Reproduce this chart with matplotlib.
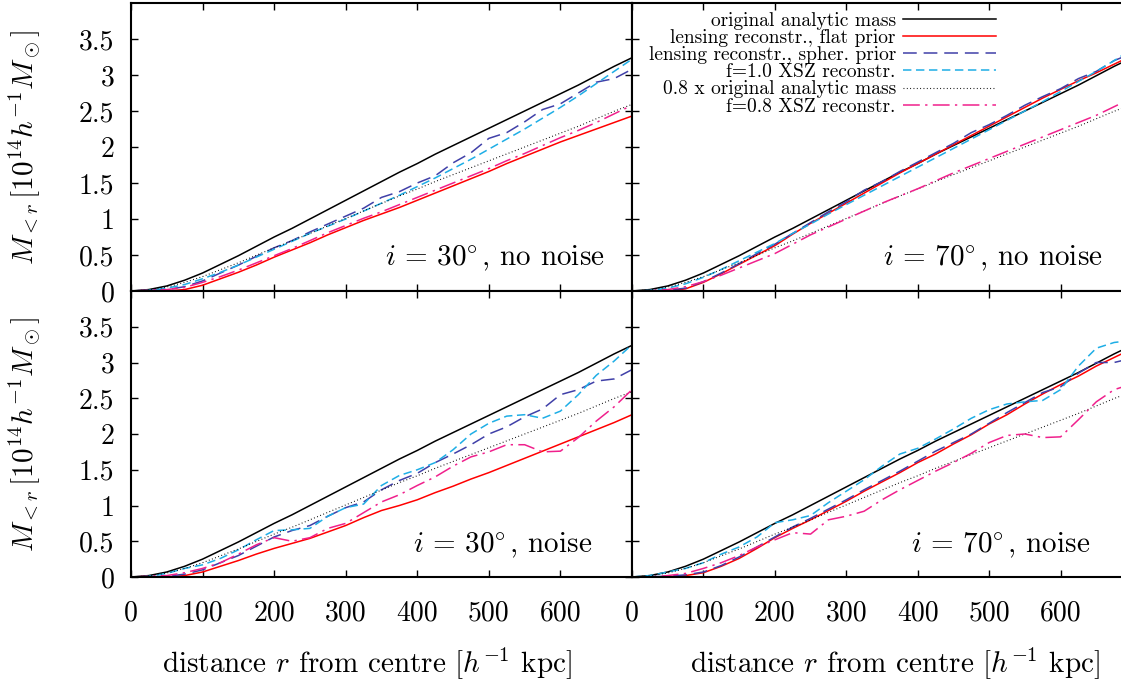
import numpy as np
import matplotlib.pyplot as plt

plt.rcParams['font.family'] = 'cmr10'
plt.rcParams['mathtext.fontset'] = 'cm'
plt.rcParams['axes.formatter.use_mathtext'] = True

# radius grid [h^-1 kpc]
r_kpc = [0, 25, 50, 75, 100, 125, 150, 175, 200, 225, 250, 275, 300, 325, 350,
         375, 400, 425, 450, 475, 500, 525, 550, 575, 600, 625, 650, 675, 700]

# original analytic mass [1e14 h^-1 Msun]
mass_true = [0, 0.02, 0.07, 0.15, 0.25, 0.37, 0.49, 0.62, 0.75, 0.87, 1.0, 1.13, 1.26, 1.39, 1.52,
             1.65, 1.77, 1.90, 2.02, 2.14, 2.26, 2.38, 2.50, 2.62, 2.74, 2.86, 2.99, 3.12, 3.24]

# i = 30 deg, no noise
flat_30 = [0, 0, 0, 0.02, 0.08, 0.17, 0.26, 0.36, 0.47, 0.57, 0.67, 0.78, 0.88, 0.98, 1.07,
           1.16, 1.26, 1.36, 1.46, 1.56, 1.66, 1.77, 1.87, 1.97, 2.07, 2.16, 2.25, 2.34, 2.43]
spher_30 = [0, 0.01, 0.02, 0.06, 0.14, 0.25, 0.36, 0.48, 0.6, 0.7, 0.82, 0.93, 1.04, 1.15, 1.3,
            1.38, 1.5, 1.6, 1.78, 1.92, 2.12, 2.2, 2.35, 2.52, 2.6, 2.75, 2.9, 2.95, 3.08]
xsz10_30 = [0, 0.01, 0.04, 0.09, 0.17, 0.26, 0.36, 0.47, 0.58, 0.69, 0.8, 0.9, 1.0, 1.11, 1.22,
            1.33, 1.45, 1.57, 1.7, 1.83, 1.97, 2.11, 2.25, 2.4, 2.55, 2.71, 2.88, 3.05, 3.22]
xsz08_30 = [0, 0.01, 0.02, 0.05, 0.12, 0.2, 0.29, 0.39, 0.49, 0.59, 0.7, 0.81, 0.91, 1.01, 1.1,
            1.2, 1.3, 1.4, 1.5, 1.6, 1.7, 1.81, 1.91, 2.02, 2.13, 2.23, 2.34, 2.46, 2.58]

# i = 70 deg, no noise
flat_70 = [0, 0, 0, 0.03, 0.12, 0.24, 0.37, 0.5, 0.63, 0.79, 0.94, 1.08, 1.22, 1.36, 1.5,
           1.64, 1.77, 1.9, 2.03, 2.16, 2.29, 2.42, 2.55, 2.68, 2.8, 2.92, 3.03, 3.15, 3.27]
spher_70 = [0, 0.005, 0.01, 0.04, 0.13, 0.25, 0.38, 0.52, 0.65, 0.8, 0.95, 1.1, 1.24, 1.4, 1.52,
            1.66, 1.79, 1.92, 2.05, 2.2, 2.31, 2.44, 2.58, 2.7, 2.81, 2.95, 3.05, 3.2, 3.3]
xsz10_70 = [0, 0.01, 0.04, 0.1, 0.19, 0.3, 0.42, 0.54, 0.66, 0.8, 0.93, 1.07, 1.2, 1.33, 1.46,
            1.59, 1.72, 1.85, 1.98, 2.11, 2.24, 2.37, 2.5, 2.63, 2.77, 2.91, 3.05, 3.2, 3.36]
xsz08_70 = [0, 0.005, 0.02, 0.06, 0.13, 0.22, 0.32, 0.42, 0.52, 0.65, 0.78, 0.89, 1.0, 1.11, 1.22,
            1.32, 1.42, 1.53, 1.64, 1.74, 1.84, 1.94, 2.04, 2.14, 2.24, 2.34, 2.44, 2.56, 2.68]

# i = 30 deg, noise
flat_30n = [0, 0, 0, 0.02, 0.07, 0.15, 0.23, 0.32, 0.40, 0.47, 0.54, 0.63, 0.72, 0.83, 0.93,
            1.0, 1.08, 1.18, 1.27, 1.37, 1.46, 1.56, 1.66, 1.76, 1.86, 1.96, 2.06, 2.16, 2.27]
spher_30n = [0, 0.005, 0.01, 0.04, 0.1, 0.2, 0.3, 0.43, 0.56, 0.65, 0.72, 0.85, 0.97, 1.05, 1.22,
             1.35, 1.45, 1.6, 1.72, 1.85, 2.0, 2.1, 2.24, 2.35, 2.55, 2.62, 2.74, 2.77, 2.9]
xsz10_30n = [0, 0.01, 0.05, 0.12, 0.17, 0.26, 0.38, 0.52, 0.65, 0.66, 0.68, 0.85, 0.97, 1.02, 1.28,
             1.42, 1.5, 1.6, 1.78, 2.0, 2.15, 2.25, 2.27, 2.22, 2.32, 2.55, 2.82, 3.02, 3.25]
xsz08_30n = [0, 0.01, 0.02, 0.06, 0.12, 0.2, 0.32, 0.45, 0.55, 0.5, 0.55, 0.68, 0.75, 0.9, 1.05,
             1.15, 1.28, 1.4, 1.55, 1.68, 1.75, 1.85, 1.85, 1.75, 1.76, 1.95, 2.18, 2.38, 2.62]

# i = 70 deg, noise
flat_70n = [0, 0, 0, 0.02, 0.06, 0.15, 0.26, 0.4, 0.55, 0.68, 0.8, 0.93, 1.06, 1.2, 1.33,
            1.46, 1.6, 1.72, 1.86, 1.99, 2.14, 2.27, 2.42, 2.56, 2.69, 2.81, 2.95, 3.07, 3.19]
spher_70n = [0, 0.005, 0.01, 0.03, 0.07, 0.16, 0.28, 0.42, 0.56, 0.7, 0.82, 0.95, 1.08, 1.22, 1.35,
             1.48, 1.62, 1.76, 1.88, 2.0, 2.15, 2.3, 2.44, 2.58, 2.66, 2.85, 3.0, 3.0, 3.06]
xsz10_70n = [0, 0.02, 0.07, 0.12, 0.2, 0.32, 0.42, 0.56, 0.76, 0.8, 0.86, 1.04, 1.2, 1.36, 1.55,
             1.72, 1.8, 1.93, 2.07, 2.22, 2.34, 2.42, 2.45, 2.47, 2.62, 2.95, 3.2, 3.28, 3.31]
xsz08_70n = [0, 0, 0.02, 0.05, 0.12, 0.2, 0.3, 0.42, 0.52, 0.62, 0.6, 0.8, 0.85, 0.92, 1.08,
             1.22, 1.35, 1.48, 1.6, 1.73, 1.88, 1.98, 2.0, 1.95, 1.96, 2.2, 2.45, 2.62, 2.7]

labels = ['original analytic mass', 'lensing reconstr., flat prior',
          'lensing reconstr., spher. prior', 'f=1.0 XSZ reconstr.',
          '0.8 x original analytic mass', 'f=0.8 XSZ reconstr.']
panel_titles = [r'$i\,=\,30\!^\circ$, no noise', r'$i\,=\,70\!^\circ$, no noise',
                r'$i\,=\,30\!^\circ$, noise', r'$i\,=\,70\!^\circ$, noise']
xticks = [0, 100, 200, 300, 400, 500, 600, 700]
xticklabels = ['0', '100', '200', '300', '400', '500', '600', '']
yticks = [0, 0.5, 1, 1.5, 2, 2.5, 3, 3.5]
yticklabels = ['0', '0.5', '1', '1.5', '2', '2.5', '3', '3.5']

r = np.array(r_kpc)
mass = np.array(mass_true)

W, H = 1121, 684
fig = plt.figure(figsize=(W / 100, H / 100), dpi=100)

def fx(px):
    return px / W

def fy(py):
    return 1 - py / H

# panel boxes in pixels: left, top, right, bottom
boxes = [(131, 3, 632, 291), (632, 3, 1132, 291),
         (131, 291, 632, 577), (632, 291, 1132, 577)]
series = [(flat_30, spher_30, xsz10_30, xsz08_30),
          (flat_70, spher_70, xsz10_70, xsz08_70),
          (flat_30n, spher_30n, xsz10_30n, xsz08_30n),
          (flat_70n, spher_70n, xsz10_70n, xsz08_70n)]
title_pos = [(0.946, 0.115), (0.942, 0.115), (0.92, 0.112), (0.916, 0.112)]

for k, (box, ser) in enumerate(zip(boxes, series)):
    l, t, rr, b = box
    ax = fig.add_axes([fx(l), fy(b), fx(rr - l), (b - t) / H])
    flat, spher, x10, x08 = ser
    ax.plot(r, mass, color='black', lw=1.1, label=labels[0])
    ax.plot(r, flat, color='#ff0000', lw=1.1, label=labels[1])
    ax.plot(r, spher, color='#4040a8', lw=1.1, dashes=(9, 4.5), label=labels[2])
    ax.plot(r, x10, color='#1eaee6', lw=1.1, dashes=(5.5, 3), label=labels[3])
    ax.plot(r, 0.8 * mass, color='black', lw=0.8, dashes=(0.8, 2.2), label=labels[4])
    ax.plot(r, x08, color='#f0208c', lw=1.1, dashes=(11, 3.5, 1.5, 3.5), label=labels[5])

    ax.set_xlim(0, 700)
    ax.set_ylim(0, 4)
    ax.set_xticks(xticks)
    ax.set_yticks(yticks)
    ax.tick_params(direction='in', length=5, width=1, top=True, right=True,
                   labelsize=20)
    ax.tick_params(axis='x', pad=17)
    ax.tick_params(axis='y', pad=12)
    for s in ax.spines.values():
        s.set_linewidth(1.5)

    if k >= 2:
        ax.set_xticklabels(xticklabels)
        ax.set_xlabel(r'distance $r$ from centre [$h^{-1}$ kpc]', fontsize=21)
        ax.xaxis.set_label_coords(0.471 if k == 2 else 0.526, -0.238)
    else:
        ax.set_xticklabels([])
    if k % 2 == 0:
        ax.set_yticklabels(yticklabels)
        ax.set_ylabel(r'$M_{<r}\,[10^{14}h^{-1}M_\odot]$', fontsize=21)
        ax.yaxis.set_label_coords(-0.178, 0.5)
    else:
        ax.set_yticklabels([])

    ax.text(title_pos[k][0], title_pos[k][1], panel_titles[k], transform=ax.transAxes,
            ha='right', va='center', fontsize=21)

    if k == 1:
        ax.legend(loc='upper right', bbox_to_anchor=(0.728, 0.97), frameon=False,
                  markerfirst=False, fontsize=14, handlelength=4.8, handletextpad=0.35,
                  labelspacing=-0.04, borderpad=0, borderaxespad=0)

fig.savefig('out.png', dpi=100)
